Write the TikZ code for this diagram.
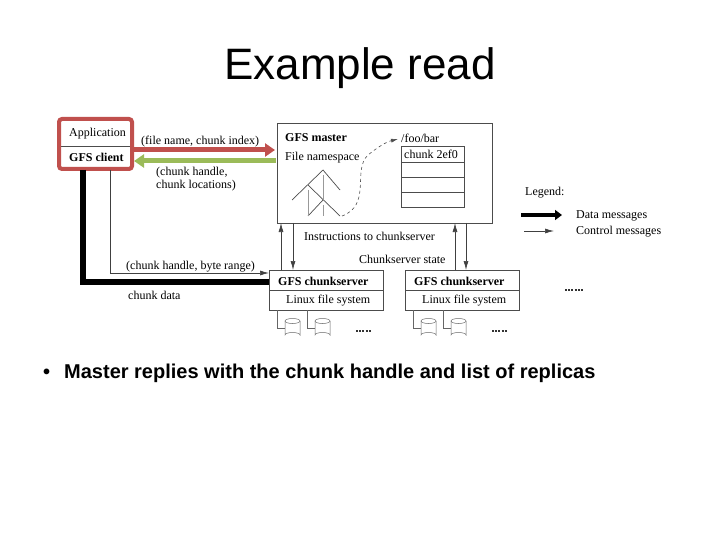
\documentclass[tikz,border=0pt]{standalone}
\usepackage{fontspec}
\setmainfont{Liberation Serif}
\newfontfamily\arial{Liberation Sans}
\usetikzlibrary{arrows.meta}
\definecolor{cred}{RGB}{192,80,77}
\definecolor{cgreen}{RGB}{155,187,89}
\begin{document}
\begin{tikzpicture}[x=1pt,y=-1pt,
  lbl/.style={font=\fontsize{12}{13}\selectfont,inner sep=0pt,anchor=west},
  bl/.style={font=\fontsize{12}{13}\selectfont\bfseries,inner sep=0pt,anchor=west},
  bx/.style={draw=black!70,line width=0.8pt},
  ctl/.style={draw=black!75,line width=0.7pt,-{Latex[length=9pt,width=5pt]}},
  dotsl/.style={draw=black!80,line width=2.2pt,dash pattern=on 2pt off 1.2pt},
  disk/.style={draw=black!60,line width=0.5pt}]
\useasboundingbox (0,0) rectangle (720,540);
\node[font=\arial\fontsize{44}{48}\selectfont] (title) at (360,68) {Example read};
% client
\draw[bx] (60,120) rectangle (131,168);
\draw[bx] (60,146) -- (131,146);
\node[lbl] (app) at (69,134) {Application};
\node[bl] (gfsc) at (69,157) {GFS client};
\draw[cred,line width=4pt,rounded corners=3pt] (59,119) rectangle (132,169);
% master
\draw[bx] (277,123) rectangle (492,223);
\node[bl] (gm) at (285,138) {GFS master};
\node[lbl] (fn) at (285,158) {File namespace};
\node[lbl] (foo) at (401,138) {/foo/bar};
\draw[bx] (401,146) rectangle (464,207);
\foreach \y in {162,177,192} \draw[bx] (401,\y) -- (464,\y);
\node[lbl] (c2) at (404,154) {chunk 2ef0};
% tree
\draw[black!70,line width=0.7pt] (292,200) -- (323,170) -- (340,190);
\draw[black!70,line width=0.7pt] (308,185) -- (340,216);
\draw[black!70,line width=0.7pt] (308,216) -- (323,200);
\foreach \x/\a/\b in {323/175/200,308/190/216,323/205/216} \draw[black!40,line width=0.7pt] (\x,\a) -- (\x,\b);
\draw[black!70,dashed,line width=0.6pt,-{Latex[length=7pt,width=4pt]}] (342,216) .. controls (372,205) and (352,170) .. (368,155) .. controls (378,147) and (386,142) .. (398,139);
% arrows client-master
\draw[cred,line width=5pt,-{Triangle[length=10pt,width=13pt]}] (133,150) -- (275,150);
\draw[cgreen,line width=5pt,-{Triangle[length=10pt,width=13pt]}] (276,161) -- (134,161);
\node[lbl] (l1) at (141,142) {(file name, chunk index)};
\node[lbl,align=left] (l2) at (156,179) {(chunk handle,\\ chunk locations)};
% chunkservers
\foreach \x/\n in {269/a,405/b}{
  \draw[bx] (\x,270) rectangle (\x+114,310);
  \draw[bx] (\x,290) -- (\x+114,290);
  \node[bl] (gc\n) at (\x+9,281) {GFS chunkserver};
  \node[lbl] (lfs\n) at (\x+17,301) {Linux file system};
  \draw[disk] (\x+8,310) -- (\x+8,328) -- (\x+16,328);
  \draw[disk] (\x+38,310) -- (\x+38,328) -- (\x+46,328);
  \foreach \d in {16,46}{
    \draw[disk] (\x+\d,321) -- (\x+\d,335) arc (180:360:7.5 and 2.5) -- (\x+\d+15,321);
    \draw[disk] (\x+\d+7.5,321) ellipse (7.5 and 2.5);
  }
  \draw[dotsl] (\x+87,331) -- (\x+102,331);
}
\draw[dotsl] (565,290) -- (584,290);
\draw[ctl] (281,270) -- (281,223);
\draw[ctl] (293,223) -- (293,270);
\draw[ctl] (455,270) -- (455,223);
\draw[ctl] (466,223) -- (466,270);
\node[lbl] (ins) at (304,236) {Instructions to chunkserver};
\node[lbl] (st) at (359,259) {Chunkserver state};
% client to chunkserver
\coordinate (t1) at (110,273);
\draw[ctl] (110,170) -- (t1) -- (269,273);
\node[lbl] (l3) at (126,267) {(chunk handle, byte range)};
\draw[black,line width=6pt] (83,170) -- (83,282) -- (269,282);
\node[lbl] (cd) at (128,295) {chunk data};
% legend
\node[lbl] (leg) at (525,193) {Legend:};
\draw[black,line width=4pt,-{Triangle[length=7pt,width=10pt]}] (521,215) -- (562,215);
\draw[ctl] (524,231) -- (554,231);
\node[lbl] (dm) at (576,216) {Data messages};
\node[lbl] (cm) at (576,232) {Control messages};
% bullet
\node[anchor=west,font=\arial\bfseries\fontsize{20}{22}\selectfont,inner sep=0pt] (bul) at (43,373) {•\hspace{14pt}Master replies with the chunk handle and list of replicas};
\end{tikzpicture}
\end{document}
